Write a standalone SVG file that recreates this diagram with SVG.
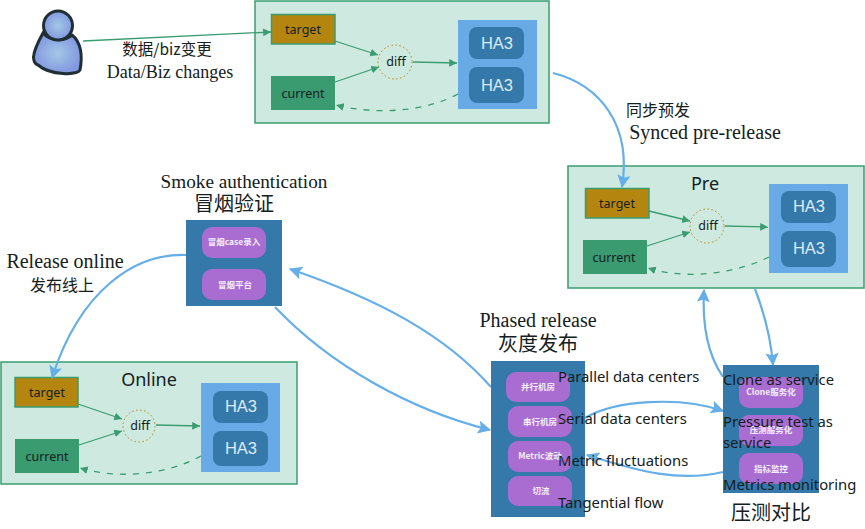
<svg xmlns="http://www.w3.org/2000/svg" width="865" height="529" viewBox="0 0 865 529">
<style>
text{font-family:"Noto Sans","Noto Sans CJK SC",sans-serif;fill:#142020;text-anchor:middle}
.s{font-family:"Liberation Serif","Noto Sans CJK SC",serif;font-size:20px}
.cn{font-family:"Noto Sans CJK SC",sans-serif;font-size:20px}
.cs{font-family:"Noto Sans CJK SC",sans-serif;font-size:16px}
.c{font-size:14.8px;text-anchor:start}
.ttl{font-size:18px}
.lab{font-size:12.500px}
.ha{font-family:"Liberation Sans",sans-serif;font-size:16.500px;fill:#dcebf5}
.w{font-family:"Noto Sans CJK SC",sans-serif;font-size:8.5px;font-weight:700;fill:#f4eefa}
.panel{fill:#ceeae0;stroke:#3b9c72;stroke-width:1.5}
.tg{fill:#b5860f;stroke:#3b9c72;stroke-width:1.5}
.cu{fill:#3a9a70}
.hb{fill:#67aae6}
.hi{fill:#3579ab}
.dc{fill:none;stroke:#b5860f;stroke-width:1;stroke-dasharray:1.5 2.5}
.blk{fill:#3579ab}
.pu{fill:#a96dd2}
.g{fill:none;stroke:#3b9c72;stroke-width:1.3;marker-end:url(#ag)}
.gd{fill:none;stroke:#3b9c72;stroke-width:1.3;stroke-dasharray:6 7;marker-end:url(#ag)}
.b{fill:none;stroke:#66aee8;stroke-width:2.2;marker-end:url(#ab)}
.p{fill:url(#pf);stroke:#1f2f33;stroke-width:3}
</style>
<defs>
<marker id="ag" markerWidth="8" markerHeight="8" refX="6" refY="3" orient="auto"><path d="M0 0L6 3L0 6z" fill="#3b9c72"/></marker>
<marker id="ab" markerWidth="7" markerHeight="7" refX="5.5" refY="3" orient="auto"><path d="M0 0L6 3L0 6L1.2 3z" fill="#66aee8"/></marker>
<radialGradient id="pf"><stop offset="0" stop-color="#a4c8e6"/><stop offset="1" stop-color="#8298e0"/></radialGradient>
</defs>
<rect width="865" height="529" fill="#fff"/>

<g id="user">
<path class="p" d="M43 33C38 42 34 50 33.500 57C33.500 62 35 64 38 65C45 71 54 73 63 73.500C70 74 78 73 80 70C81.500 62 81.500 55 80.500 50C79 43 76 38 72 35C64 42 50 41 43 33Z"/>
<circle class="p" cx="58" cy="25.500" r="14.500"/>
</g>

<g id="node-top">
<rect class="panel" x="255" y="1" width="294" height="122"/>
<rect class="tg" x="271.500" y="14.500" width="63.500" height="29.500"/>
<text class="lab" x="303" y="34">target</text>
<rect class="cu" x="271" y="76" width="64" height="34"/>
<text class="lab" x="303" y="98">current</text>
<circle class="dc" cx="395" cy="62" r="17"/>
<text class="lab" x="396" y="66">diff</text>
<rect class="hb" x="458" y="20" width="79" height="89"/>
<rect class="hi" x="469" y="27" width="55" height="32" rx="8"/>
<text class="ha" x="497" y="49">HA3</text>
<rect class="hi" x="469" y="67" width="55" height="36" rx="8"/>
<text class="ha" x="497" y="91">HA3</text>
</g>

<g id="node-pre">
<rect class="panel" x="568" y="166" width="296" height="122"/>
<text class="ttl" x="705" y="190">Pre</text>
<rect class="tg" x="585.500" y="188.500" width="63.500" height="29.500"/>
<text class="lab" x="617" y="208">target</text>
<rect class="cu" x="583" y="240" width="64" height="34"/>
<text class="lab" x="614" y="262">current</text>
<circle class="dc" cx="707" cy="226" r="17"/>
<text class="lab" x="708" y="230">diff</text>
<rect class="hb" x="769" y="184" width="79" height="89"/>
<rect class="hi" x="781" y="191" width="55" height="32" rx="8"/>
<text class="ha" x="809" y="212">HA3</text>
<rect class="hi" x="781" y="231" width="55" height="36" rx="8"/>
<text class="ha" x="809" y="254">HA3</text>
</g>

<g id="node-online">
<rect class="panel" x="1" y="362" width="296" height="122"/>
<text class="ttl" x="149" y="386">Online</text>
<rect class="tg" x="15" y="377.500" width="63" height="29.500"/>
<text class="lab" x="47" y="397">target</text>
<rect class="cu" x="15" y="439" width="64" height="34"/>
<text class="lab" x="47" y="461">current</text>
<circle class="dc" cx="139" cy="426" r="16"/>
<text class="lab" x="140" y="430">diff</text>
<rect class="hb" x="201" y="383" width="79" height="89"/>
<rect class="hi" x="213" y="391" width="55" height="32" rx="8"/>
<text class="ha" x="241" y="412">HA3</text>
<rect class="hi" x="213" y="431" width="55" height="35" rx="8"/>
<text class="ha" x="241" y="454">HA3</text>
</g>

<g id="connectors">
<path class="g" d="M83 41L271 32"/>
<path class="g" d="M335 41L378 55"/>
<path class="g" d="M335 82L379 67"/>
<path class="g" d="M413 62L457 63"/>
<path class="gd" d="M458 94C425 112 375 115 336 105"/>
<path class="g" d="M649 211L690 221"/>
<path class="g" d="M647 246L690 232"/>
<path class="g" d="M725 226L768 227"/>
<path class="gd" d="M769 257C735 274 685 280 648 268"/>
<path class="g" d="M78 404L122 419"/>
<path class="g" d="M79 445L122 431"/>
<path class="g" d="M156 425L200 426"/>
<path class="gd" d="M201 456C168 474 120 480 80 468"/>
<path class="b" d="M553 73C600 85 632 125 622 187"/>
<path class="b" d="M186 255C135 253 80 290 52 378"/>
<path class="b" d="M491 387C445 335 380 300 290 269"/>
<path class="b" d="M275 307C330 365 410 410 490 430"/>
<path class="b" d="M585 418C615 400 680 396 723 411"/>
<path class="b" d="M723 472C680 482 640 472 587 455"/>
<path class="b" d="M723 377C708 355 702 325 704 290"/>
<path class="b" d="M755 289C765 315 771 340 773 365"/>
</g>

<g id="node-smoke">
<text class="s" x="244" y="188" style="font-size:19.200px">Smoke authentication</text>
<text class="cn" x="234" y="211">冒烟验证</text>
<rect class="blk" x="186" y="220" width="96" height="86"/>
<rect class="pu" x="202" y="227" width="64" height="31" rx="10"/>
<text class="w" x="234" y="245">冒烟case录入</text>
<rect class="pu" x="202" y="269" width="64" height="31" rx="10"/>
<text class="w" x="235" y="288">冒烟平台</text>
</g>

<g id="node-phased">
<text class="s" x="538" y="327">Phased release</text>
<text class="cn" x="538" y="351">灰度发布</text>
<rect class="blk" x="491" y="361" width="94" height="156"/>
<rect class="pu" x="506" y="372" width="64" height="30" rx="10"/>
<text class="w" x="538" y="390">并行机房</text>
<rect class="pu" x="508" y="406" width="64" height="31" rx="10"/>
<text class="w" x="540" y="425">串行机房</text>
<rect class="pu" x="508" y="441" width="64" height="31" rx="10"/>
<text class="w" x="540" y="459">Metric波动</text>
<rect class="pu" x="508" y="476" width="64" height="30" rx="10"/>
<text class="w" x="541" y="494">切流</text>
</g>

<g id="node-pressure">
<rect class="blk" x="723" y="365" width="96" height="128"/>
<rect class="pu" x="739" y="377" width="64" height="31" rx="10"/>
<text class="w" x="771" y="395">Clone服务化</text>
<rect class="pu" x="739" y="415" width="64" height="31" rx="10"/>
<text class="w" x="771" y="433">压测服务化</text>
<rect class="pu" x="739" y="453" width="64" height="31" rx="10"/>
<text class="w" x="771" y="472">指标监控</text>
<text class="cn" x="771" y="520">压测对比</text>
</g>

<g id="labels">
<text class="cs" x="167" y="55" style="font-size:15.500px">数据/biz变更</text>
<text class="s" x="170" y="78" style="font-size:18px">Data/Biz changes</text>
<text class="cs" x="658" y="116">同步预发</text>
<text class="s" x="705" y="139">Synced pre-release</text>
<text class="s" x="65" y="268">Release online</text>
<text class="cs" x="62" y="291">发布线上</text>
<text class="c" x="558" y="382">Parallel data centers</text>
<text class="c" x="558" y="424">Serial data centers</text>
<text class="c" x="558" y="466">Metric fluctuations</text>
<text class="c" x="558" y="508">Tangential flow</text>
<text class="c" x="723" y="385">Clone as service</text>
<text class="c" x="723" y="427">Pressure test as</text>
<text class="c" x="723" y="448">service</text>
<text class="c" x="723" y="490">Metrics monitoring</text>
</g>
</svg>
